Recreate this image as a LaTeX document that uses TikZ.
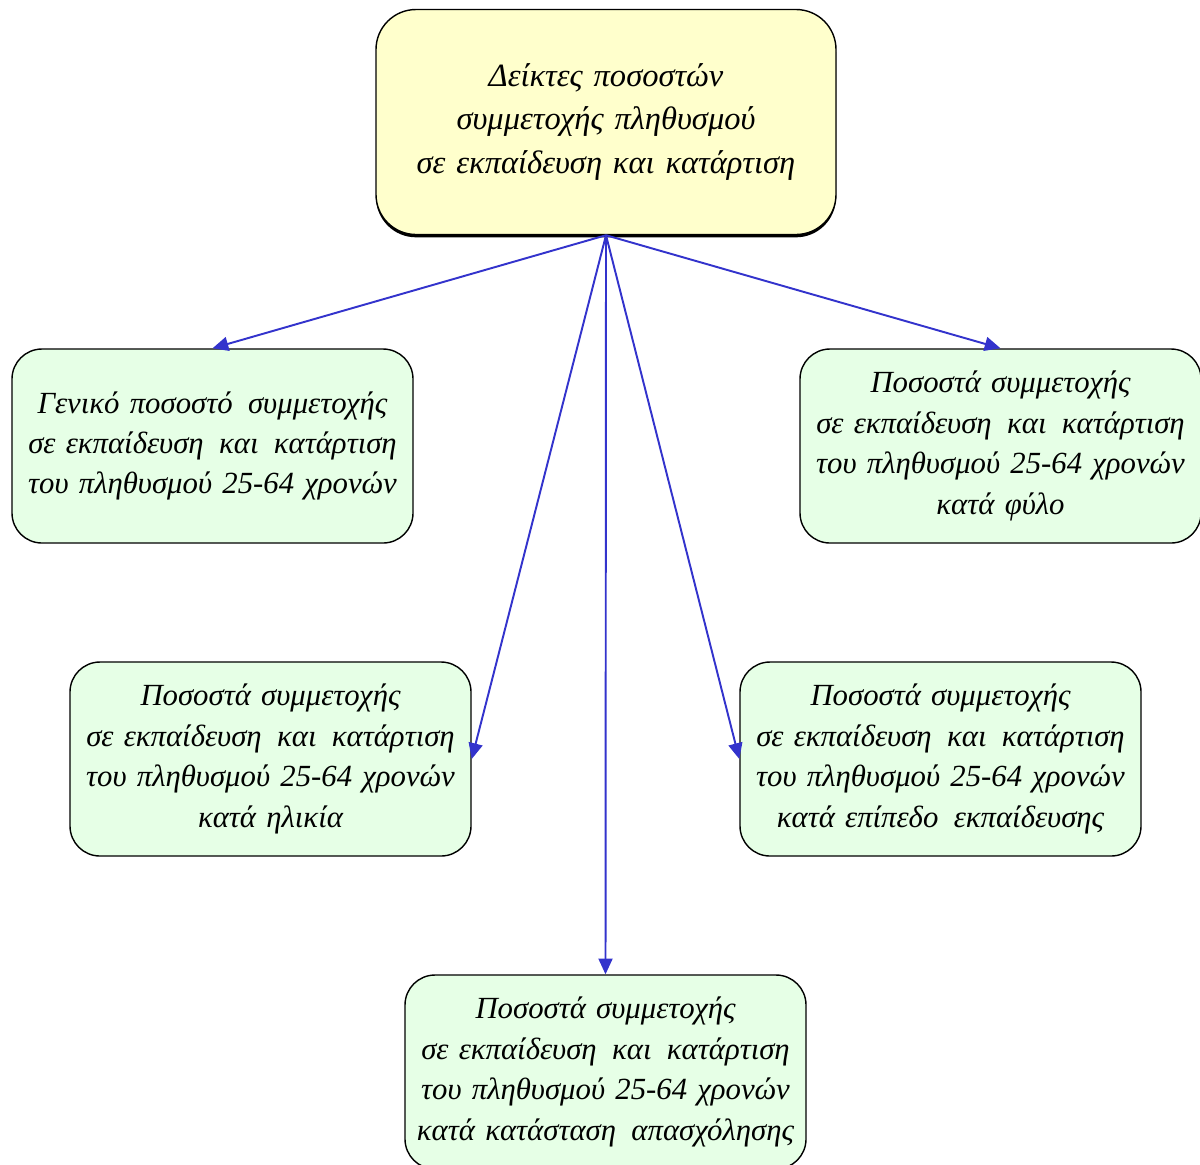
\documentclass[tikz,border=0pt]{standalone}
\usepackage{fontspec}
\setmainfont{Liberation Serif}
\usepackage{xcolor}
\usetikzlibrary{arrows.meta,positioning,shadows}
\definecolor{rootfill}{HTML}{FFFFCC}
\definecolor{leaffill}{HTML}{E6FFE6}
\definecolor{linkblue}{HTML}{3333CC}
\tikzset{
  root/.style={
    draw,
    thick,
    rounded corners=0.8cm,
    minimum width=9.2cm,
    minimum height=4.5cm,
    text width=8.7cm,
    align=center,
    font=\fontsize{18.5}{25}\selectfont\itshape,
    fill=rootfill,
    drop shadow={shadow xshift=0pt, shadow yshift=-1.6pt, fill=black, opacity=1}
  },
  leaf/.style={
    draw,
    thick,
    rounded corners=0.6cm,
    minimum width=8.02cm,
    minimum height=3.88cm,
    text width=7.6cm,
    align=center,
    font=\fontsize{17.5}{23}\selectfont\itshape,
    fill=leaffill
  },
  flow/.style={-{Triangle[length=9pt,width=8pt]}, line width=1.1pt, draw=linkblue, fill=linkblue}
}
\begin{document}
\begin{tikzpicture}
  \useasboundingbox (0,0) rectangle (24,-23.28);

  \node[root] (top) at (12.12,-2.44) {Δείκτες ποσοστών\\συμμετοχής πληθυσμού\\σε εκπαίδευση και κατάρτιση};

  \node[leaf] (general) at (4.25,-8.92) {Γενικό ποσοστό\, συμμετοχής\\σε εκπαίδευση\, και\, κατάρτιση\\του πληθυσμού 25-64 χρονών};
  \node[leaf] (sex) at (20.01,-8.92) {Ποσοστά συμμετοχής\\σε εκπαίδευση\, και\, κατάρτιση\\του πληθυσμού 25-64 χρονών\\κατά φύλο};
  \node[leaf] (age) at (5.41,-15.18) {Ποσοστά συμμετοχής\\σε εκπαίδευση\, και\, κατάρτιση\\του πληθυσμού 25-64 χρονών\\κατά ηλικία};
  \node[leaf] (level) at (18.81,-15.18) {Ποσοστά συμμετοχής\\σε εκπαίδευση\, και\, κατάρτιση\\του πληθυσμού 25-64 χρονών\\κατά επίπεδο\, εκπαίδευσης};
  \node[leaf] (work) at (12.11,-21.44) {Ποσοστά συμμετοχής\\σε εκπαίδευση\, και\, κατάρτιση\\του πληθυσμού 25-64 χρονών\\κατά κατάσταση\, απασχόλησης};

  \draw[flow] (top.south) -- (general.north);
  \draw[flow] (top.south) -- (sex.north);
  \draw[flow] (top.south) -- (age.east);
  \draw[flow] (top.south) -- (level.west);
  \draw[flow] (top.south) -- (work.north);
\end{tikzpicture}
\end{document}
